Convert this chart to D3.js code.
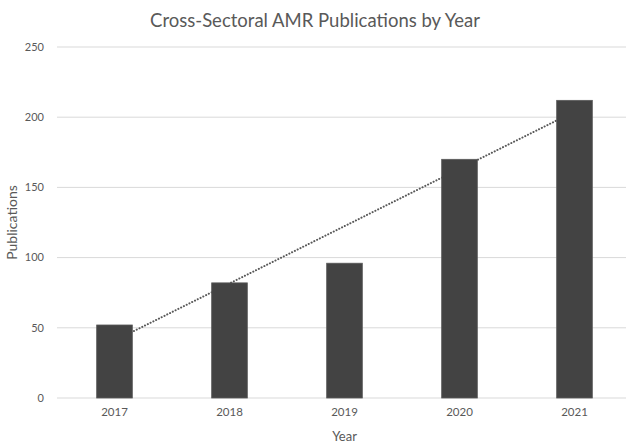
<!DOCTYPE html>
<html>
<head>
<meta charset="utf-8">
<script src="https://cdn.jsdelivr.net/npm/d3@7"></script>
<style>
  html, body { margin: 0; padding: 0; background: #fff; }
  svg { display: block; font-family: Lato, "Open Sans", sans-serif; }
</style>
</head>
<body>
<svg id="chart" width="626" height="445"></svg>
<script>
// Publications per year
const years = ["2017", "2018", "2019", "2020", "2021"];
const publications = [52, 82, 96, 170, 212];
const yTicks = [0, 50, 100, 150, 200, 250];

const title = "Cross-Sectoral AMR Publications by Year";
const xTitle = "Year";
const yTitle = "Publications";

const svg = d3.select("#chart");
const margin = { left: 57, right: -6, top: 47, bottom: 47 };
const W = 626, H = 445;

const x = d3.scaleBand()
  .domain(years)
  .range([margin.left, W - margin.right])
  .paddingInner(0.69)
  .paddingOuter(0.345);

const y = d3.scaleLinear()
  .domain([0, 250])
  .range([H - margin.bottom, margin.top]);

// horizontal gridlines
svg.append("g")
  .selectAll("line")
  .data(yTicks)
  .join("line")
  .attr("x1", margin.left)
  .attr("x2", W)
  .attr("y1", d => y(d))
  .attr("y2", d => y(d))
  .attr("stroke", "#d9d9d9")
  .attr("stroke-width", 1);

// y tick labels
svg.append("g")
  .selectAll("text")
  .data(yTicks)
  .join("text")
  .attr("x", 44)
  .attr("y", d => y(d))
  .attr("dy", "0.35em")
  .attr("text-anchor", "end")
  .attr("font-size", 11)
  .attr("fill", "#595959")
  .text(d => d);

// linear trendline (least squares over year index)
const n = publications.length;
const xi = publications.map((_, i) => i + 1);
const mx = d3.mean(xi), my = d3.mean(publications);
const slope = d3.sum(xi.map((v, i) => (v - mx) * (publications[i] - my))) /
              d3.sum(xi.map(v => (v - mx) ** 2));
const intercept = my - slope * mx;
const trend = years.map((yr, i) => ({ yr, v: intercept + slope * (i + 1) }));

svg.append("path")
  .datum([trend[0], trend[n - 1]])
  .attr("d", d3.line()
    .x(d => x(d.yr) + x.bandwidth() / 2)
    .y(d => y(d.v)))
  .attr("fill", "none")
  .attr("stroke", "#595959")
  .attr("stroke-width", 2)
  .attr("stroke-dasharray", "0.1 3")
  .attr("stroke-linecap", "round");

// bars
svg.append("g")
  .selectAll("rect")
  .data(years.map((yr, i) => ({ yr, v: publications[i] })))
  .join("rect")
  .attr("x", d => x(d.yr))
  .attr("width", x.bandwidth())
  .attr("y", d => y(d.v))
  .attr("height", d => y(0) - y(d.v))
  .attr("fill", "#434343")
  .attr("stroke", "#5a5a5a")
  .attr("stroke-width", 0.8);

// x tick labels
svg.append("g")
  .selectAll("text")
  .data(years)
  .join("text")
  .attr("x", d => x(d) + x.bandwidth() / 2)
  .attr("y", 416)
  .attr("text-anchor", "middle")
  .attr("font-size", 11.5)
  .attr("fill", "#595959")
  .text(d => d);

// titles
svg.append("text")
  .attr("x", 315)
  .attr("y", 27)
  .attr("text-anchor", "middle")
  .attr("font-size", 18.5)
  .attr("fill", "#595959")
  .text(title);

svg.append("text")
  .attr("x", (margin.left + W - margin.right) / 2)
  .attr("y", 441)
  .attr("text-anchor", "middle")
  .attr("font-size", 13)
  .attr("fill", "#595959")
  .text(xTitle);

svg.append("text")
  .attr("transform", `translate(17, ${(y(0) + y(250)) / 2}) rotate(-90)`)
  .attr("text-anchor", "middle")
  .attr("font-size", 14)
  .attr("fill", "#595959")
  .text(yTitle);
</script>
</body>
</html>
